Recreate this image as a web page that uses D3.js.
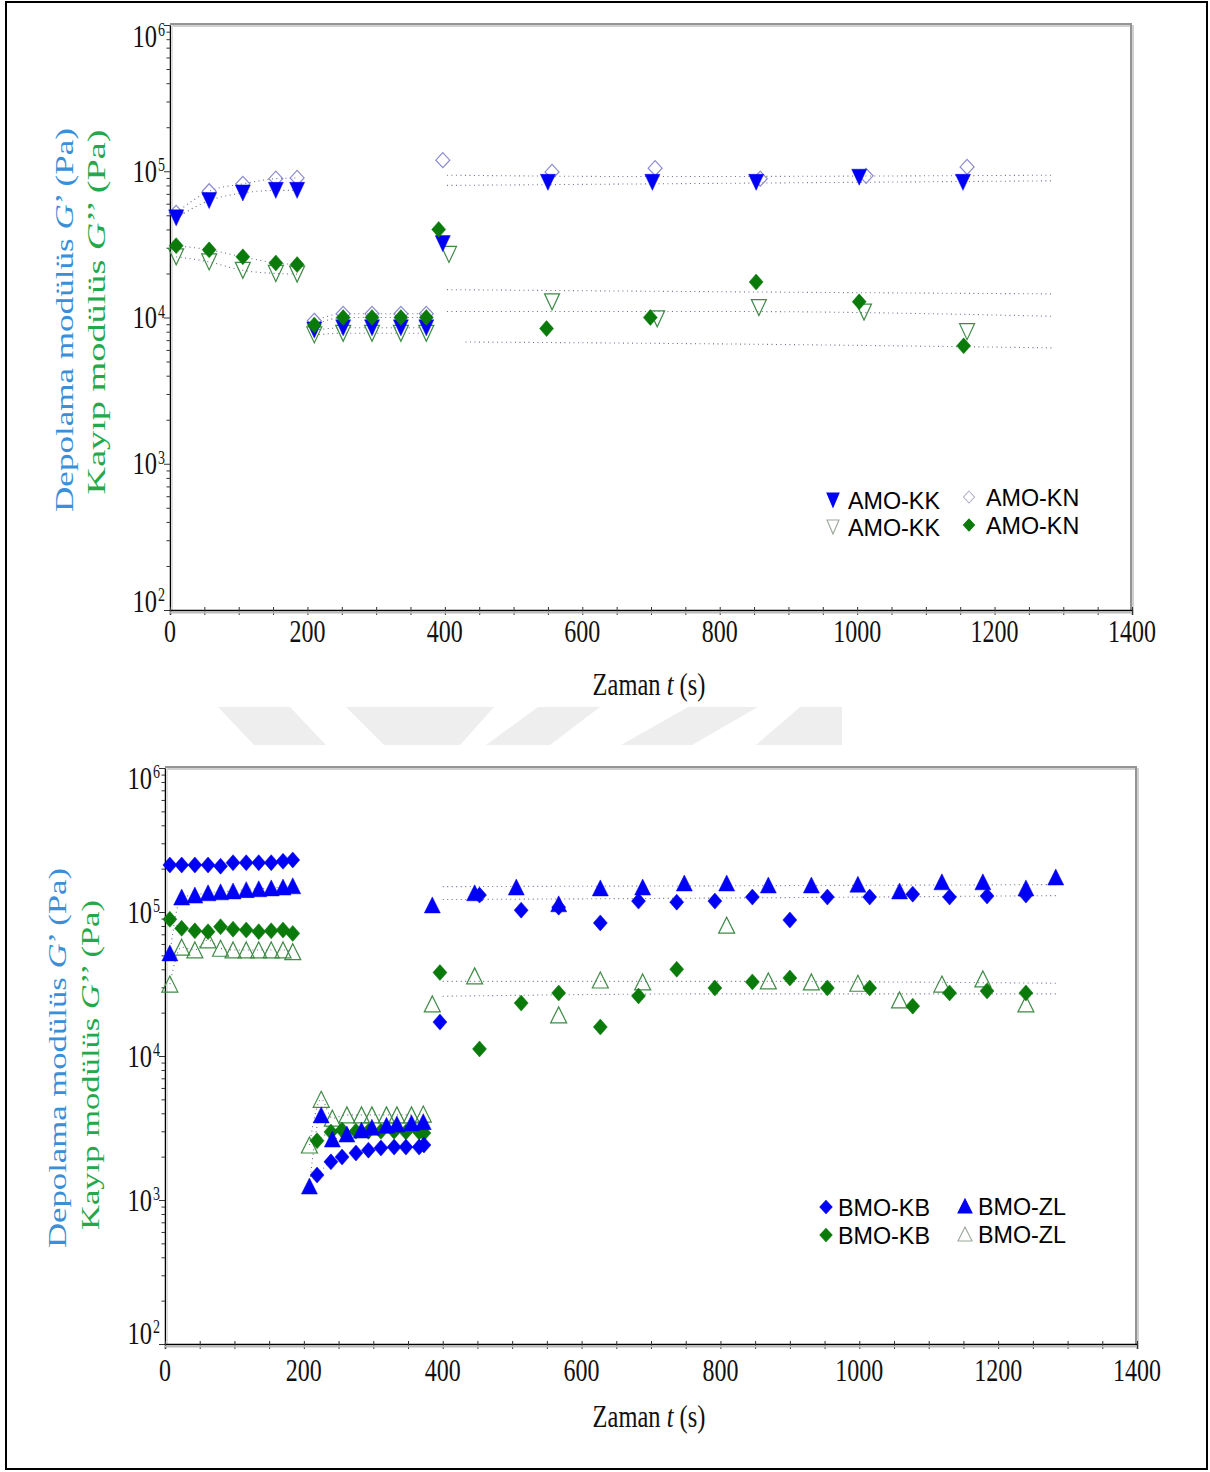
<!DOCTYPE html>
<html><head><meta charset="utf-8">
<script src="https://cdn.jsdelivr.net/npm/d3@7"></script>
<style>body{margin:0;background:#fff}svg{display:block}</style>
</head><body>
<svg id="c" width="1210" height="1472"></svg>
<script>
// ---------- DATA ----------
const xTickValues = [0, 200, 400, 600, 800, 1000, 1200, 1400];
const yTickExponents = [2, 3, 4, 5, 6];

// Top panel (AMO) : [time s, modulus Pa]
const amoKK_Gp = [[9,4.8e4],[57,6.3e4],[106,7.1e4],[154,7.4e4],[185,7.4e4],
  [210,8.2e3],[252,8.5e3],[294,8.5e3],[336,8.5e3],[373,8.5e3],
  [397,3.2e4],[550,8.4e4],[702,8.4e4],[853,8.4e4],[1003,9.1e4],[1154,8.4e4]];
const amoKN_Gp = [[9,5.2e4],[57,7.3e4],[106,8.2e4],[154,8.9e4],[185,9.0e4],
  [210,9.5e3],[252,1.06e4],[294,1.06e4],[336,1.06e4],[373,1.06e4],
  [397,1.19e5],[556,9.9e4],[706,1.05e5],[859,8.9e4],[1013,9.3e4],[1160,1.07e5]];
const amoKK_Gpp = [[9,2.6e4],[57,2.4e4],[106,2.1e4],[154,2.0e4],[185,1.98e4],
  [210,7.6e3],[252,7.8e3],[294,7.8e3],[336,7.8e3],[373,7.8e3],
  [406,2.7e4],[556,1.28e4],[709,9.8e3],[857,1.17e4],[1010,1.09e4],[1160,8.0e3]];
const amoKN_Gpp = [[9,3.1e4],[57,2.9e4],[106,2.6e4],[154,2.36e4],[185,2.3e4],
  [210,8.9e3],[252,1.0e4],[294,1.0e4],[336,1.0e4],[373,1.0e4],
  [391,4.0e4],[548,8.4e3],[699,1.0e4],[853,1.75e4],[1003,1.28e4],[1155,6.4e3]];
// dotted raw-data traces (top)
const amoTraceGp = [[[403,9.4e4],[700,9.2e4],[1285,9.4e4]], [[403,8.0e4],[700,8.2e4],[1285,8.6e4]]];
const amoTraceGpp = [[[403,1.55e4],[800,1.5e4],[1285,1.45e4]], [[403,1.1e4],[800,1.1e4],[1285,1.02e4]], [[430,6.8e3],[800,6.6e3],[1285,6.2e3]]];

// Bottom panel (BMO)
const bmoKB_Gp = [[7,2.12e5],[24,2.12e5],[43,2.12e5],[62,2.12e5],[80,2.08e5],[98,2.2e5],[117,2.2e5],[135,2.2e5],[153,2.2e5],[170,2.25e5],[184,2.3e5],
  [219,1.49e3],[239,1.84e3],[255,1.99e3],[275,2.12e3],[293,2.22e3],[311,2.3e3],[330,2.33e3],[347,2.33e3],[366,2.33e3],[373,2.41e3],
  [396,1.72e4],[453,1.31e5],[513,1.03e5],[567,1.08e5],[627,8.4e4],[682,1.19e5],[737,1.17e5],[792,1.19e5],[846,1.27e5],[900,8.8e4],[954,1.27e5],[1015,1.27e5],[1077,1.33e5],[1130,1.27e5],[1184,1.29e5],[1240,1.31e5]];
const bmoZL_Gp = [[7,5.2e4],[24,1.27e5],[43,1.31e5],[62,1.36e5],[80,1.38e5],[98,1.40e5],[117,1.43e5],[135,1.45e5],[153,1.47e5],[170,1.49e5],[184,1.52e5],
  [208,1.25e3],[225,3.9e3],[241,2.65e3],[262,2.87e3],[283,3.06e3],[298,3.2e3],[319,3.3e3],[334,3.37e3],[355,3.43e3],[372,3.5e3],
  [385,1.12e5],[446,1.36e5],[506,1.49e5],[567,1.14e5],[627,1.47e5],[688,1.49e5],[748,1.59e5],[809,1.59e5],[869,1.54e5],[931,1.54e5],[998,1.56e5],[1058,1.40e5],[1119,1.62e5],[1178,1.62e5],[1240,1.47e5],[1283,1.75e5]];
const bmoKB_Gpp = [[7,8.9e4],[24,7.7e4],[43,7.4e4],[62,7.3e4],[80,7.9e4],[98,7.6e4],[117,7.5e4],[135,7.3e4],[153,7.4e4],[170,7.5e4],[184,7.1e4],
  [219,2.58e3],[239,2.97e3],[255,3.06e3],[275,3.0e3],[293,3.0e3],[311,3.0e3],[330,3.0e3],[347,2.97e3],[366,2.97e3],[373,2.92e3],
  [396,3.8e4],[453,1.12e4],[513,2.33e4],[567,2.74e4],[627,1.59e4],[682,2.61e4],[737,4.0e4],[792,2.97e4],[846,3.27e4],[900,3.48e4],[954,2.97e4],[1015,2.97e4],[1077,2.22e4],[1130,2.74e4],[1184,2.83e4],[1240,2.74e4]];
const bmoZL_Gpp = [[7,3.16e4],[24,5.7e4],[43,5.45e4],[62,6.4e4],[80,5.6e4],[98,5.45e4],[117,5.45e4],[135,5.45e4],[153,5.45e4],[170,5.45e4],[184,5.3e4],
  [208,2.41e3],[225,5.0e3],[241,3.7e3],[262,3.9e3],[283,3.9e3],[298,3.9e3],[319,3.9e3],[334,3.9e3],[355,3.9e3],[372,3.95e3],
  [385,2.3e4],[446,3.6e4],[567,1.93e4],[627,3.37e4],[688,3.27e4],[809,8.1e4],[869,3.32e4],[931,3.27e4],[998,3.2e4],[1058,2.45e4],[1119,3.16e4],[1178,3.43e4],[1240,2.3e4]];
const bmoTraceGp = [[[400,1.5e5],[800,1.52e5],[1285,1.55e5]], [[400,1.22e5],[800,1.25e5],[1285,1.3e5]]];
const bmoTraceGpp = [[[400,3.3e4],[800,3.3e4],[1285,3.2e4]], [[400,2.6e4],[800,2.7e4],[1285,2.7e4]]];

const legendTop = [["AMO-KK","AMO-KN"],["AMO-KK","AMO-KN"]];
const legendBottom = [["BMO-KB","BMO-ZL"],["BMO-KB","BMO-ZL"]];

// ---------- STYLE ----------
const BLUE = "#0000f5", GREEN = "#0a7a0a", OPEN_DIA = "#8a8ad0", OPEN_TRI = "#3f8a46";
const TITLE_BLUE = "#3a8fd8", TITLE_GREEN = "#24a84a";
const SERIF = "'Liberation Serif','Times New Roman',serif";
const SANS = "'Liberation Sans',Arial,sans-serif";
const STRETCH = 1.28;

const svg = d3.select("#c");

// outer frame
svg.append("rect").attr("x",6).attr("y",2).attr("width",1201).attr("height",1467)
  .attr("fill","none").attr("stroke","#000").attr("stroke-width",2);

// watermark shapes
const wm = [
  [[218,707],[290,707],[326,745],[254,745]],
  [[346,707],[494,707],[460,745],[384,745]],
  [[538,707],[600,707],[550,745],[486,745]],
  [[688,707],[758,707],[692,745],[621,745]],
  [[800,707],[842,707],[842,745],[756,745]]
];
svg.append("g").selectAll("polygon").data(wm).join("polygon")
  .attr("points", d => d.map(p => p.join(",")).join(" ")).attr("fill","#eeeeee");

// symbol paths (box-centred)
const shp = {
  down: (w,h) => `M${-w/2},${-h/2}L${w/2},${-h/2}L0,${h/2}Z`,
  up: (w,h) => `M0,${-h/2}L${w/2},${h/2}L${-w/2},${h/2}Z`,
  dia: (w,h) => `M0,${-h/2}L${w/2},0L0,${h/2}L${-w/2},0Z`
};

function sText(g, x, y, str, size, anchor, sx, sy, family) {
  return g.append("text")
    .attr("transform", `translate(${x},${y}) scale(${sx},${sy})`)
    .attr("text-anchor", anchor).attr("dominant-baseline","central")
    .attr("font-family", family || SERIF).attr("font-size", size).attr("fill","#111")
    .text(str);
}

function panel(cfg) {
  const g = svg.append("g");
  const x = d3.scaleLinear().domain([0,1400]).range([cfg.left, cfg.right]);
  const y = d3.scaleLog().domain([100,1e6]).range([cfg.bottom, cfg.top]);

  // frame top & right (gray, with shadow)
  g.append("line").attr("x1",cfg.left).attr("x2",cfg.right).attr("y1",cfg.top).attr("y2",cfg.top).attr("stroke","#d0d0d0").attr("stroke-width",4);
  g.append("line").attr("x1",cfg.left).attr("x2",cfg.right).attr("y1",cfg.top-1).attr("y2",cfg.top-1).attr("stroke","#808080").attr("stroke-width",1.5);
  g.append("line").attr("x1",cfg.right).attr("x2",cfg.right).attr("y1",cfg.top).attr("y2",cfg.bottom).attr("stroke","#d0d0d0").attr("stroke-width",4);
  g.append("line").attr("x1",cfg.right-1).attr("x2",cfg.right-1).attr("y1",cfg.top).attr("y2",cfg.bottom).attr("stroke","#808080").attr("stroke-width",1.5);

  // y axis
  const minor = [];
  for (let e = 2; e < 6; e++) for (let m = 1; m < 10; m++) minor.push(m * Math.pow(10, e));
  minor.push(1e6);
  const yAx = d3.axisLeft(y).tickValues(minor).tickSize(0).tickFormat("");
  const ya = g.append("g").attr("transform",`translate(${cfg.left},0)`).call(yAx);
  ya.select(".domain").attr("stroke","#000").attr("stroke-width",1.5);
  ya.selectAll(".tick line").remove();
  ya.selectAll(".tick").append("line")
    .attr("x1", d => (Math.abs(Math.log10(d) - Math.round(Math.log10(d))) < 1e-9) ? -6 : -3.5)
    .attr("x2", 0).attr("stroke","#333").attr("stroke-width",1);
  g.append("line").attr("x1",cfg.left+2).attr("x2",cfg.left+2).attr("y1",cfg.top).attr("y2",cfg.bottom).attr("stroke","#ddd").attr("stroke-width",2);

  // y labels 10^n
  yTickExponents.forEach(e => {
    let yy = y(Math.pow(10, e));
    if (e === 6) yy += cfg.firstShift;
    if (e === 2) yy -= cfg.lastShift;
    sText(g, cfg.left - 13, yy, "10", 25, "end", 0.98, STRETCH);
    sText(g, cfg.left - 12, yy - 6, String(e), 14, "start", 1, STRETCH);
  });

  // x axis
  const xMinor = d3.range(0, 1401, 50);
  const xAx = d3.axisBottom(x).tickValues(xMinor).tickSize(5).tickFormat("");
  const xa = g.append("g").attr("transform",`translate(0,${cfg.bottom})`).call(xAx);
  xa.select(".domain").attr("stroke","#000").attr("stroke-width",1.5);
  xa.selectAll(".tick line").attr("stroke","#333").attr("y1",-3);
  g.append("line").attr("x1",cfg.left).attr("x2",cfg.right).attr("y1",cfg.bottom+2.5).attr("y2",cfg.bottom+2.5).attr("stroke","#bbb").attr("stroke-width",2);
  xTickValues.forEach(v => sText(g, x(v), cfg.bottom + cfg.xLabOff, String(v), 25, "middle", 0.96, STRETCH));
  // x title
  const xt = g.append("text")
    .attr("transform", `translate(${(cfg.left+cfg.right)/2 - 2},${cfg.bottom + cfg.xTitleOff}) scale(0.98,${STRETCH})`)
    .attr("text-anchor","middle").attr("dominant-baseline","central")
    .attr("font-family",SERIF).attr("font-size",25).attr("fill","#111");
  xt.append("tspan").text("Zaman ");
  xt.append("tspan").attr("font-style","italic").text("t");
  xt.append("tspan").text(" (s)");

  // y titles
  function yTitle(xp, yp, color, len, parts) {
    const t = g.append("text")
      .attr("transform", `translate(${xp},${yp}) rotate(-90)`)
      .attr("text-anchor","middle").attr("dominant-baseline","central")
      .attr("font-family",SERIF).attr("font-size",26).attr("fill",color)
      .attr("textLength", len).attr("lengthAdjust","spacingAndGlyphs");
    parts.forEach(p => t.append("tspan").attr("font-style", p[1] ? "italic" : null).text(p[0]));
  }
  yTitle(cfg.t1x, cfg.t1y, TITLE_BLUE, cfg.t1len, [["Depolama modülüs ",0],["G",1],["’ (Pa)",0]]);
  yTitle(cfg.t2x, cfg.t2y, TITLE_GREEN, cfg.t2len, [["Kayıp modülüs ",0],["G",1],["’’ (Pa)",0]]);

  // dotted traces
  const line = d3.line().x(d => x(d[0])).y(d => y(d[1])).curve(d3.curveMonotoneX);
  const dotG = g.append("g").attr("fill","none").attr("stroke","#6c6c8c").attr("stroke-width",1.1).attr("stroke-dasharray","1,3.5");
  cfg.traces.forEach(tr => dotG.append("path").attr("d", line(tr)));
  // link markers inside the first two groups
  cfg.series.forEach(s => {
    [[0,200],[200,380]].forEach(([a,b]) => {
      const seg = s.data.filter(d => d[0] >= a && d[0] < b);
      if (seg.length > 1) dotG.append("path").attr("d", line(seg));
    });
  });

  // markers
  cfg.series.forEach(s => {
    g.append("g").selectAll("path").data(s.data).join("path")
      .attr("transform", d => `translate(${x(d[0])},${y(d[1])})`)
      .attr("d", shp[s.shape](s.w, s.h))
      .attr("fill", s.fill).attr("stroke", s.stroke).attr("stroke-width", s.sw || 1.2);
  });

  // legend
  cfg.legend.forEach(L => {
    g.append("path").attr("transform",`translate(${L.mx},${L.my})`)
      .attr("d", shp[L.shape](L.w, L.h)).attr("fill", L.fill).attr("stroke", L.stroke).attr("stroke-width",1.1);
    sText(g, L.tx, L.my + 1, L.label, 22, "start", 1.06, 1.05, SANS).attr("fill","#000");
  });
}

// Top panel
panel({
  left:170, right:1132, top:25, bottom:610, firstShift:11, lastShift:9,
  xLabOff:21, xTitleOff:74,
  t1x:64, t1y:320, t1len:384, t2x:96, t2y:312, t2len:365,
  traces: amoTraceGp.concat(amoTraceGpp),
  series: [
    {data: amoKN_Gp, shape:"dia", w:14, h:15, fill:"none", stroke:OPEN_DIA},
    {data: amoKK_Gpp, shape:"down", w:15, h:16, fill:"none", stroke:OPEN_TRI},
    {data: amoKK_Gp, shape:"down", w:15, h:16, fill:BLUE, stroke:BLUE, sw:0.5},
    {data: amoKN_Gpp, shape:"dia", w:14, h:16, fill:GREEN, stroke:GREEN, sw:0.5}
  ],
  legend: [
    {mx:833, my:500, shape:"down", w:12, h:14, fill:BLUE, stroke:BLUE, tx:848, label:legendTop[0][0]},
    {mx:969, my:497, shape:"dia", w:11, h:12, fill:"none", stroke:"#b0b0c8", tx:986, label:legendTop[0][1]},
    {mx:833, my:527, shape:"down", w:12, h:14, fill:"none", stroke:"#9aa89a", tx:848, label:legendTop[1][0]},
    {mx:969, my:525, shape:"dia", w:11, h:12, fill:GREEN, stroke:GREEN, tx:986, label:legendTop[1][1]}
  ]
});

// Bottom panel
panel({
  left:165, right:1137, top:768, bottom:1344, firstShift:10, lastShift:11,
  xLabOff:26, xTitleOff:72,
  t1x:57, t1y:1058, t1len:380, t2x:90, t2y:1065, t2len:330,
  traces: bmoTraceGp.concat(bmoTraceGpp),
  series: [
    {data: bmoZL_Gpp, shape:"up", w:16, h:16, fill:"none", stroke:OPEN_TRI},
    {data: bmoKB_Gpp, shape:"dia", w:14, h:16, fill:GREEN, stroke:GREEN, sw:0.5},
    {data: bmoZL_Gp, shape:"up", w:16, h:16, fill:BLUE, stroke:BLUE, sw:0.5},
    {data: bmoKB_Gp, shape:"dia", w:14, h:16, fill:BLUE, stroke:BLUE, sw:0.5}
  ],
  legend: [
    {mx:826, my:1207, shape:"dia", w:12, h:13, fill:BLUE, stroke:BLUE, tx:838, label:legendBottom[0][0]},
    {mx:965, my:1206, shape:"up", w:14, h:14, fill:BLUE, stroke:BLUE, tx:978, label:legendBottom[0][1]},
    {mx:826, my:1235, shape:"dia", w:12, h:13, fill:GREEN, stroke:GREEN, tx:838, label:legendBottom[1][0]},
    {mx:965, my:1234, shape:"up", w:14, h:14, fill:"none", stroke:"#9aa89a", tx:978, label:legendBottom[1][1]}
  ]
});
</script>
</body></html>
